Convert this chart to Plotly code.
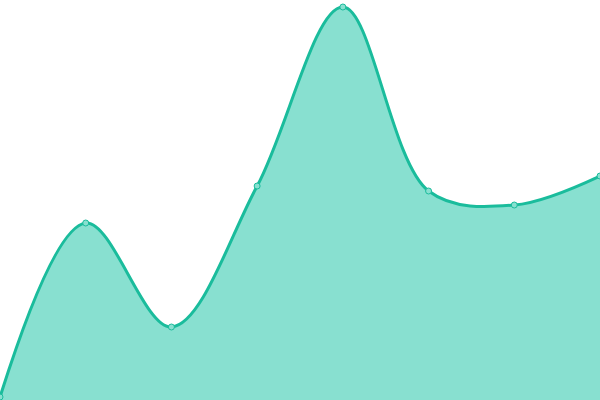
import plotly.graph_objects as go

x_values = [0, 1, 2, 3, 4, 5, 6, 7]
y_values = [3, 177, 73, 214, 393, 209, 195, 224]

line_color = "#1abc9c"
fill_color = "#88e0d0"

fig = go.Figure()

fig.add_trace(go.Scatter(
    x=x_values,
    y=y_values,
    mode="lines+markers",
    line=dict(color=line_color, width=3, shape="spline", smoothing=1),
    marker=dict(size=6, color=fill_color, line=dict(color=line_color, width=1)),
    fill="tozeroy",
    fillcolor=fill_color,
    cliponaxis=False,
    hoverinfo="skip",
))

fig.update_layout(
    width=600,
    height=400,
    margin=dict(l=0, r=0, t=0, b=0),
    paper_bgcolor="white",
    plot_bgcolor="white",
    showlegend=False,
    xaxis=dict(range=[0, 7], visible=False, fixedrange=True),
    yaxis=dict(range=[0, 400], visible=False, fixedrange=True),
)

# page body has a default 8px margin, drop it so the chart sits at the corner
fig.write_html(
    "out.html",
    config={"displayModeBar": False},
    post_script="document.body.style.margin='0';document.body.style.overflow='hidden';",
)
